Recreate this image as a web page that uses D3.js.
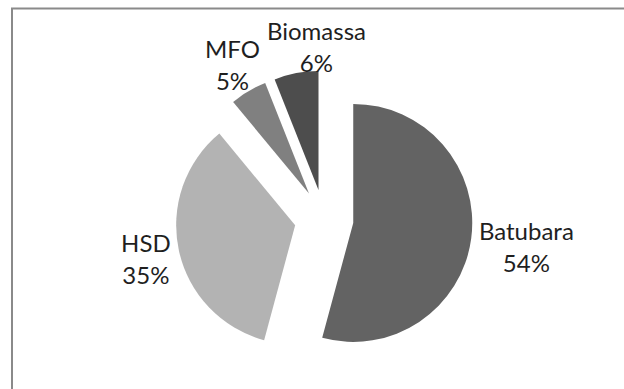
<!DOCTYPE html>
<html>
<head>
<meta charset="utf-8">
<script src="https://cdn.jsdelivr.net/npm/d3@7"></script>
<style>
    html, body { margin: 0; padding: 0; background: #fff; }
    svg { display: block; }
</style>
</head>
<body>
<svg id="pieSvg"></svg>
<script>
// data
let categories = ["Batubara", "HSD", "MFO", "Biomassa"];
let shares = [54.2, 34.8, 5.0, 6.0];
let sliceColors = ["#636363", "#b3b3b3", "#808080", "#4d4d4d"];

window.onload = () =>
{
    let width = 624;
    let height = 389;

    let center = {x: 324, y: 219};
    let radius = 119;
    let explode = 29.5;
    let labelPad = 7;
    let lineHeight = 32;

    let svg = d3.select("#pieSvg")
        .attr("width", width)
        .attr("height", height)
        .attr("viewBox", [0, 0, width, height]);

    // chart frame, runs off the right and bottom of the picture
    svg.append("rect")
        .attr("x", 12)
        .attr("y", 8.5)
        .attr("width", width)
        .attr("height", height)
        .attr("fill", "none")
        .attr("stroke", "#8a8a8a")
        .attr("stroke-width", 2);

    let data = categories.map((name, i) => ({name, value: shares[i], color: sliceColors[i]}));
    let total = d3.sum(shares);
    let formatPct = d3.format(".0%");

    let pie = d3.pie().sort(null).value(d => d.value);
    let arc = d3.arc().innerRadius(0).outerRadius(radius);
    let arcs = pie(data);

    let mid = d => (d.startAngle + d.endAngle) / 2;
    let dir = d => [Math.sin(mid(d)), -Math.cos(mid(d))];

    let g = svg.append("g")
        .attr("transform", `translate(${center.x},${center.y})`);

    g.selectAll("path")
        .data(arcs)
        .join("path")
        .attr("transform", d => `translate(${dir(d)[0] * explode},${dir(d)[1] * explode})`)
        .attr("d", arc)
        .attr("fill", d => d.data.color);

    let labels = g.append("g")
        .style("font", "24px Lato, 'Open Sans', sans-serif")
        .attr("fill", "#1f1f1f")
        .attr("text-anchor", "middle")
        .selectAll("text")
        .data(arcs)
        .join("text")
        .call(text => text.append("tspan")
            .attr("x", 0)
            .attr("y", -6)
            .text(d => d.data.name))
        .call(text => text.append("tspan")
            .attr("x", 0)
            .attr("y", -6 + lineHeight)
            .text(d => formatPct(d.data.value / total)));

    // place every label just outside its slice, then push overlapping ones to the right
    let boxes = [];
    labels.each(function (d)
    {
        let bb = this.getBBox();
        let halfW = bb.width / 2;
        let halfH = 12;
        let [dx, dy] = dir(d);
        let dist = explode + radius + labelPad + Math.abs(dx) * halfW + Math.abs(dy) * halfH;
        let x = dx * dist;
        let y = dy * dist;
        for (let b of boxes)
        {
            let overlapX = x - halfW < b.x + b.halfW && x + halfW > b.x - b.halfW;
            let overlapY = Math.abs(y - b.y) < 2 * halfH + 20;
            if (overlapX && overlapY) x = b.x + b.halfW + labelPad + halfW;
        }
        boxes.push({x, y, halfW});
        d3.select(this).attr("transform", `translate(${x},${y})`);
    });
};
</script>
</body>
</html>
